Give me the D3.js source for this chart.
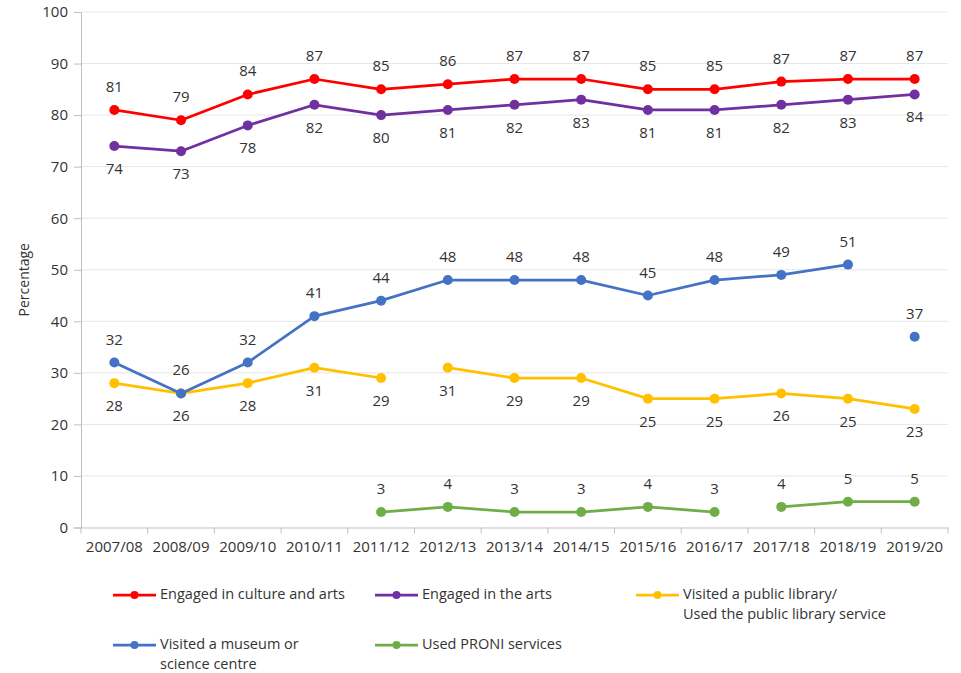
<!DOCTYPE html>
<html>
<head>
<meta charset="utf-8">
<script src="https://cdn.jsdelivr.net/npm/d3@7"></script>
<style>
  html, body { margin: 0; padding: 0; background: #fff; }
  svg { display: block; font-family: "Open Sans", "Segoe UI", sans-serif; }
</style>
</head>
<body>
<svg id="chart" width="961" height="673"></svg>
<script>
// Survey years along the category axis
const years = ["2007/08", "2008/09", "2009/10", "2010/11", "2011/12", "2012/13", "2013/14",
               "2014/15", "2015/16", "2016/17", "2017/18", "2018/19", "2019/20"];

// Percentage of respondents per year (null = not measured)
const cultureArts = [81, 79, 84, 87, 85, 86, 87, 87, 85, 85, 86.5, 87, 87];
const arts        = [74, 73, 78, 82, 80, 81, 82, 83, 81, 81, 82, 83, 84];
const library     = [28, 26, 28, 31, 29, 31, 29, 29, 25, 25, 26, 25, 23];
const museum      = [32, 26, 32, 41, 44, 48, 48, 48, 45, 48, 49, 51, 37];
const proni       = [null, null, null, null, 3, 4, 3, 3, 4, 3, 4, 5, 5];

// Years where a series starts a new, unconnected run (change in survey question)
const libraryBreaks = ["2012/13"];
const museumBreaks  = ["2019/20"];
const proniBreaks   = ["2017/18"];

const yTicks = [0, 10, 20, 30, 40, 50, 60, 70, 80, 90, 100];

const series = [
  { name: ["Engaged in culture and arts"], values: cultureArts, breaks: [], color: "#FF0000", pos: "above" },
  { name: ["Engaged in the arts"], values: arts, breaks: [], color: "#7030A0", pos: "below" },
  { name: ["Visited a public library/", "Used the public library service"], values: library, breaks: libraryBreaks, color: "#FFC000", pos: "below" },
  { name: ["Visited a museum or", "science centre"], values: museum, breaks: museumBreaks, color: "#4472C4", pos: "above" },
  { name: ["Used PRONI services"], values: proni, breaks: proniBreaks, color: "#70AD47", pos: "above" }
];

const svg = d3.select("#chart");
const plot = { left: 81, right: 948, top: 12, bottom: 527.5 };

const x = d3.scaleBand().domain(years).range([plot.left, plot.right]);
const y = d3.scaleLinear().domain([0, 100]).range([plot.bottom, plot.top]);

const textColor = "#333333";
const axisColor = "#BFBFBF";
const fmt = d3.format(".0f");

// Horizontal gridlines
svg.append("g")
  .selectAll("line")
  .data(yTicks.filter(t => t > 0))
  .join("line")
  .attr("x1", plot.left).attr("x2", plot.right)
  .attr("y1", d => y(d)).attr("y2", d => y(d))
  .attr("stroke", "#E6E6E6").attr("stroke-width", 1);

// Y axis
const yAxis = svg.append("g")
  .attr("transform", `translate(${plot.left},0)`)
  .call(d3.axisLeft(y).tickValues(yTicks).tickSize(7).tickPadding(6).tickFormat(d3.format("d")));
yAxis.select(".domain").attr("stroke", axisColor);
yAxis.selectAll(".tick line").attr("stroke", axisColor);
yAxis.selectAll(".tick text")
  .attr("fill", textColor)
  .style("font-size", "15px")
  .style("font-family", "'Open Sans', sans-serif");

// X axis: labels centred on categories, tick marks on category boundaries
const xAxis = svg.append("g")
  .attr("transform", `translate(0,${plot.bottom})`)
  .call(d3.axisBottom(x).tickSize(0).tickPadding(14));
xAxis.select(".domain").attr("stroke", axisColor);
xAxis.selectAll(".tick text")
  .attr("fill", textColor)
  .style("font-size", "15px")
  .style("font-family", "'Open Sans', sans-serif");
svg.append("g")
  .selectAll("line")
  .data(years.map(d => x(d)).concat([plot.right]))
  .join("line")
  .attr("x1", d => d).attr("x2", d => d)
  .attr("y1", plot.bottom).attr("y2", plot.bottom + 6)
  .attr("stroke", axisColor);

// Y axis title
svg.append("text")
  .attr("transform", `translate(25,${(plot.top + plot.bottom) / 2 + 10}) rotate(-90)`)
  .attr("text-anchor", "middle")
  .attr("dominant-baseline", "middle")
  .attr("fill", textColor)
  .style("font-size", "14px")
  .text("Percentage");

// Split a series into connected runs at nulls and at declared breaks
function runs(s) {
  const out = [];
  let cur = [];
  years.forEach((yr, i) => {
    const v = s.values[i];
    if (v == null || s.breaks.includes(yr)) {
      if (cur.length) out.push(cur);
      cur = [];
    }
    if (v != null) cur.push({ year: yr, value: v });
  });
  if (cur.length) out.push(cur);
  return out;
}

const line = d3.line()
  .x(d => x(d.year) + x.bandwidth() / 2)
  .y(d => y(d.value));

const seriesG = svg.append("g");
series.forEach(s => {
  const g = seriesG.append("g");
  g.selectAll("path")
    .data(runs(s))
    .join("path")
    .attr("d", line)
    .attr("fill", "none")
    .attr("stroke", s.color)
    .attr("stroke-width", 2.75)
    .attr("stroke-linejoin", "round");
  const pts = years.map((yr, i) => ({ year: yr, value: s.values[i] })).filter(d => d.value != null);
  g.selectAll("circle")
    .data(pts)
    .join("circle")
    .attr("cx", d => x(d.year) + x.bandwidth() / 2)
    .attr("cy", d => y(d.value))
    .attr("r", 5)
    .attr("fill", s.color);
  s.pts = pts;
});

// Data labels
series.forEach(s => {
  svg.append("g")
    .selectAll("text")
    .data(s.pts)
    .join("text")
    .attr("x", d => x(d.year) + x.bandwidth() / 2)
    .attr("y", d => y(d.value) + (s.pos === "above" ? -22 : 24))
    .attr("text-anchor", "middle")
    .attr("dominant-baseline", "middle")
    .attr("fill", textColor)
    .style("font-size", "15px")
    .text(d => fmt(d.value));
});

// Legend: three columns, two rows
const legendCols = [113, 375, 636];
const legendRows = [595, 645];
const legend = svg.append("g");
series.forEach((s, i) => {
  const lx = legendCols[i % 3];
  const ly = legendRows[Math.floor(i / 3)];
  const item = legend.append("g").attr("transform", `translate(${lx},${ly})`);
  item.append("line")
    .attr("x1", 0).attr("x2", 43).attr("y1", 0).attr("y2", 0)
    .attr("stroke", s.color).attr("stroke-width", 2.75);
  item.append("circle").attr("cx", 21.5).attr("cy", 0).attr("r", 4).attr("fill", s.color);
  const t = item.append("text")
    .attr("x", 47).attr("y", 0)
    .attr("fill", textColor)
    .style("font-size", "14.5px");
  s.name.forEach((ln, j) => {
    t.append("tspan")
      .attr("x", 47)
      .attr("y", j * 20)
      .attr("dominant-baseline", "middle")
      .text(ln);
  });
});
</script>
</body>
</html>
